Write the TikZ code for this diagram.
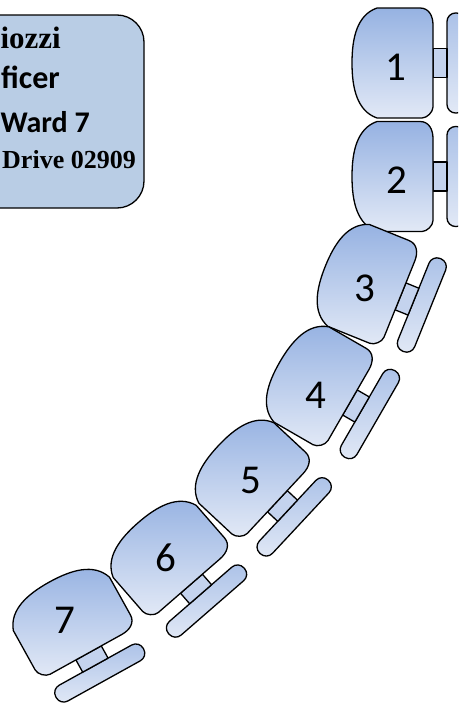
\documentclass[tikz,border=0pt]{standalone}
\usepackage{fontspec}
\setmainfont{Carlito}
\newfontfamily\serifbold{Liberation Serif}
\definecolor{gtop}{RGB}{150,178,226}
\definecolor{gbot}{RGB}{226,233,246}
\definecolor{linkfill}{RGB}{196,211,238}
\definecolor{boxfill}{RGB}{185,205,229}
\newcommand{\drawchair}[2]{%
  \begin{scope}[shift={#1}, rotate=#2]
    \draw[tablebox] (54,-50) rectangle (72,50);
    \draw[linkbox] (40,-14.5) rectangle (54,14.5);
    \draw[seatbox] (-16,-55) -- (27,-55) .. controls (36,-55) and (40,-47) .. (40,-38)
      -- (40,44) .. controls (40,49) and (34,55) .. (29,55) -- (-16,55)
      .. controls (-36,48) and (-41,25) .. (-41,0)
      .. controls (-41,-25) and (-36,-48) .. (-16,-55) -- cycle;
  \end{scope}}
\begin{document}
\begin{tikzpicture}[x=1pt,y=-1pt, line join=round,
  seatbox/.style={draw=black, line width=1.3pt, top color=gtop, bottom color=gbot},
  tablebox/.style={draw=black, line width=1.3pt, rounded corners=8.5pt, top color=gtop!80!white, bottom color=gbot},
  linkbox/.style={draw=black, line width=1.3pt, fill=linkfill},
  infobox/.style={draw=black, line width=1.3pt, fill=boxfill, rounded corners=27pt},
  num/.style={inner sep=0pt, font=\fontsize{41}{41}\selectfont},
  sanstext/.style={anchor=base east, inner sep=0pt, font=\bfseries\fontsize{32}{32}\selectfont},
  seriftext/.style={anchor=base east, inner sep=0pt, font=\serifbold\bfseries\fontsize{31}{31}\selectfont}]
\useasboundingbox (0,0) rectangle (458,704);
\clip (0,0) rectangle (458,704);
\draw[infobox] (-80,15) rectangle (144,208);
\node[seriftext] (t1) at (61,48) {iozzi};
\node[sanstext] (t2) at (60,88) {ficer};
\node[sanstext, font=\bfseries\fontsize{30}{30}\selectfont] (t3) at (90,132) {Ward 7};
\node[seriftext, font=\serifbold\bfseries\fontsize{26}{26}\selectfont] (t4) at (136,168) {Drive 02909};
\drawchair{(393,63)}{0}
\drawchair{(393,176.5)}{0}
\drawchair{(363.4,281.4)}{-22}
\drawchair{(315.3,382.5)}{-30}
\drawchair{(248.1,473.9)}{-43}
\drawchair{(165.2,553.5)}{-49}
\drawchair{(69.2,617.9)}{-61}
\node[num] (n1) at (396,67) {1};
\node[num] (n2) at (397,180) {2};
\node[num] (n3) at (365,288) {3};
\node[num] (n4) at (316,395) {4};
\node[num] (n5) at (251,480) {5};
\node[num] (n6) at (166,558) {6};
\node[num] (n7) at (65,620) {7};
\end{tikzpicture}
\end{document}
